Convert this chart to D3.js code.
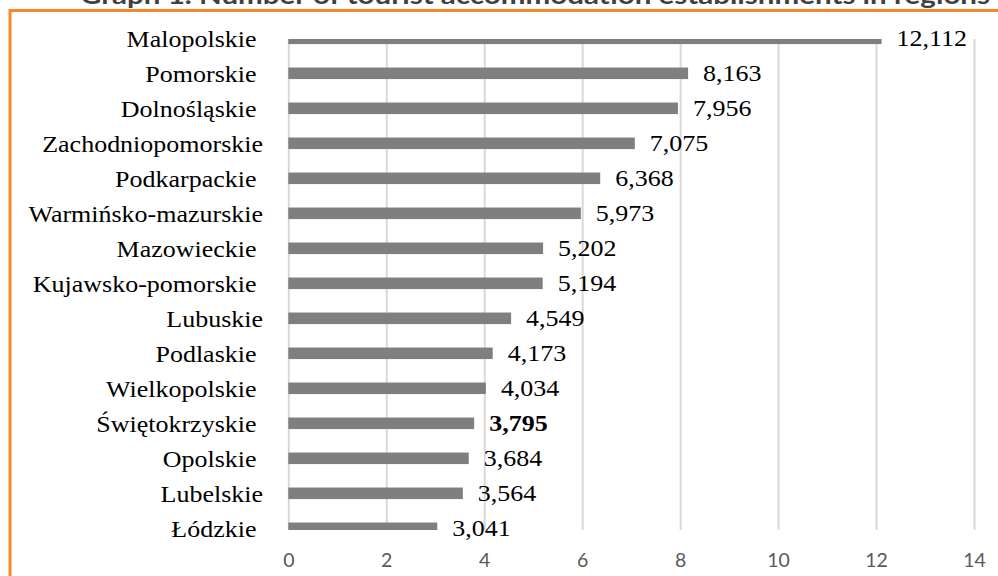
<!DOCTYPE html>
<html>
<head>
<meta charset="utf-8">
<script src="https://cdn.jsdelivr.net/npm/d3@7"></script>
<style>
  html, body { margin: 0; padding: 0; background: #fff; }
  svg { display: block; }
</style>
</head>
<body>
<svg id="chart" width="998" height="576"></svg>
<script>
// Regions, top to bottom
const regions = [
  "Malopolskie ", "Pomorskie ", "Dolnośląskie ", "Zachodniopomorskie",
  "Podkarpackie ", "Warmińsko-mazurskie", "Mazowieckie ", "Kujawsko-pomorskie ",
  "Lubuskie", "Podlaskie ", "Wielkopolskie ", "Świętokrzyskie ",
  "Opolskie ", "Lubelskie", "Łódzkie "
];
const values = [
  12.112, 8.163, 7.956, 7.075, 6.368, 5.973, 5.202, 5.194,
  4.549, 4.173, 4.034, 3.795, 3.684, 3.564, 3.041
];
const xTicks = [0, 2, 4, 6, 8, 10, 12, 14];
const highlighted = "Świętokrzyskie ";
const title = "Graph 1. Number of tourist accommodation establishments in regions";

const data = regions.map((r, i) => ({ region: r, value: values[i] }));

const svg = d3.select("#chart");
const plot = { left: 288.3, right: 974, top: 39, bottom: 530 };
const stretch = 1.13;   // serif labels are set slightly wide

const x = d3.scaleLinear().domain([0, 14]).range([plot.left, plot.right]);
const y = d3.scaleBand()
  .domain(regions)
  .range([20.8, 545.8])
  .paddingInner(0.67)
  .paddingOuter(0.335);

// frame
svg.append("rect")
  .attr("x", 10).attr("y", 10.5)
  .attr("width", 1100).attr("height", 700)
  .attr("fill", "none")
  .attr("stroke", "#F7862A")
  .attr("stroke-width", 3);

// title, mostly above the visible area
svg.append("text")
  .attr("x", 80).attr("y", 4)
  .attr("textLength", 910)
  .attr("lengthAdjust", "spacingAndGlyphs")
  .attr("font-family", "Lato, 'Open Sans', sans-serif")
  .attr("font-weight", "bold")
  .attr("font-size", 24)
  .attr("fill", "#404040")
  .text(title);

// clip for the plotting area
svg.append("clipPath").attr("id", "plotClip")
  .append("rect")
  .attr("x", plot.left - 2).attr("y", plot.top)
  .attr("width", plot.right - plot.left + 4)
  .attr("height", plot.bottom - plot.top);

// vertical gridlines
svg.append("g")
  .attr("transform", `translate(0,${plot.bottom})`)
  .call(d3.axisBottom(x).tickValues(xTicks).tickSize(-(plot.bottom - plot.top)).tickFormat(""))
  .call(g => g.select(".domain").remove())
  .call(g => g.selectAll(".tick line").attr("stroke", "#d9d9d9").attr("stroke-width", 2));

// bars
svg.append("g")
  .attr("clip-path", "url(#plotClip)")
  .selectAll("rect")
  .data(data)
  .join("rect")
  .attr("x", x(0))
  .attr("y", d => y(d.region))
  .attr("width", d => x(d.value) - x(0))
  .attr("height", y.bandwidth())
  .attr("fill", "#7f7f7f");

// category labels
svg.append("g")
  .selectAll("text")
  .data(data)
  .join("text")
  .attr("transform", d => `translate(263,${y(d.region) + y.bandwidth() / 2 + 8.3}) scale(${stretch},1)`)
  .attr("text-anchor", "end")
  .attr("font-family", "'Liberation Serif', 'Times New Roman', serif")
  .attr("font-size", 23)
  .attr("fill", "#000")
  .style("white-space", "pre")
  .text(d => d.region);

// value labels
const fmt = v => d3.format(".3f")(v).replace(".", ",");
svg.append("g")
  .selectAll("text")
  .data(data)
  .join("text")
  .attr("transform", d => `translate(${x(d.value) + 15},${y(d.region) + y.bandwidth() / 2 + 7.8}) scale(${stretch},1)`)
  .attr("font-family", "'Liberation Serif', 'Times New Roman', serif")
  .attr("font-size", 23)
  .attr("font-weight", d => d.region === highlighted ? "bold" : "normal")
  .attr("fill", "#000")
  .text(d => fmt(d.value));

// x axis tick labels
svg.append("g")
  .attr("transform", `translate(0,${plot.bottom})`)
  .call(d3.axisBottom(x).tickValues(xTicks).tickSize(0).tickPadding(0).tickFormat(d3.format("d")))
  .call(g => g.select(".domain").remove())
  .call(g => g.selectAll(".tick text")
    .attr("y", 36.7)
    .attr("dy", null)
    .attr("font-family", "Lato, 'Open Sans', sans-serif")
    .attr("font-size", 19.5)
    .attr("fill", "#595959"));
</script>
</body>
</html>
